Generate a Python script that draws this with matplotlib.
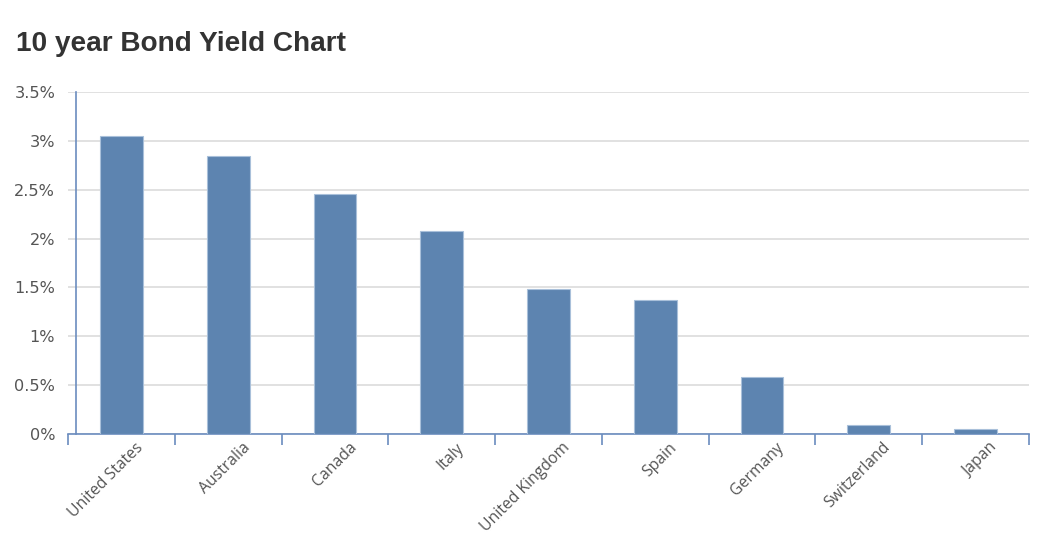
import matplotlib.pyplot as plt
import matplotlib.transforms as mtransforms
from matplotlib.ticker import FuncFormatter, FixedLocator

# data
countries = ['United States', 'Australia', 'Canada', 'Italy', 'United Kingdom',
             'Spain', 'Germany', 'Switzerland', 'Japan']
yields = [3.05, 2.85, 2.46, 2.08, 1.48, 1.37, 0.58, 0.09, 0.05]
y_ticks = [0, 0.5, 1, 1.5, 2, 2.5, 3, 3.5]

fig = plt.figure(figsize=(10.47, 5.4), dpi=100)
ax = fig.add_axes([68 / 1047, 1 - 434 / 540, (1029 - 68) / 1047, (434 - 92) / 540])

x = range(len(countries))
ax.bar(x, yields, width=0.4, color='#5d84b0', edgecolor='#a9c0da', linewidth=0.8, zorder=3)

ax.set_xlim(-0.5, len(countries) - 0.5)
ax.set_ylim(0, 3.5)

# gridlines
ax.set_yticks(y_ticks)
ax.yaxis.set_major_formatter(FuncFormatter(lambda v, p: f'{v:g}%'))
ax.grid(axis='y', color='#dcdcdc', linewidth=1.2, zorder=0)
ax.tick_params(axis='y', length=0, pad=15, labelsize=11.6, labelcolor='#555555')
for lab in ax.get_yticklabels():
    lab.set_fontfamily('Liberation Sans')

# spines
for s in ['top', 'right']:
    ax.spines[s].set_visible(False)
ax.spines['left'].set_position(('data', -0.425))
ax.spines['left'].set_color('#6b8cbf')
ax.spines['bottom'].set_color('#6b8cbf')
ax.spines['left'].set_linewidth(1.2)
ax.spines['bottom'].set_linewidth(1.2)

# x ticks: boundaries as minor ticks, labels on centers
ax.set_xticks(list(x))
ax.set_xticklabels(countries, rotation=45, ha='right', rotation_mode='default',
                   fontsize=11.3, color='#555555', fontfamily='Open Sans')
ax.xaxis.set_minor_locator(FixedLocator([i - 0.5 for i in range(len(countries) + 1)]))
ax.tick_params(axis='x', which='major', length=0, pad=4)
ax.tick_params(axis='x', which='minor', length=8, width=1.2, color='#6b8cbf')
offset = mtransforms.ScaledTranslation(25 / 100, 0, fig.dpi_scale_trans)
for lab in ax.get_xticklabels():
    lab.set_transform(lab.get_transform() + offset)

fig.text(16 / 1047, 1 - 51 / 540, '10 year Bond Yield Chart', fontsize=20.2, fontweight='bold',
         color='#333333', fontfamily='Liberation Sans')

fig.savefig('out.png', dpi=100)
